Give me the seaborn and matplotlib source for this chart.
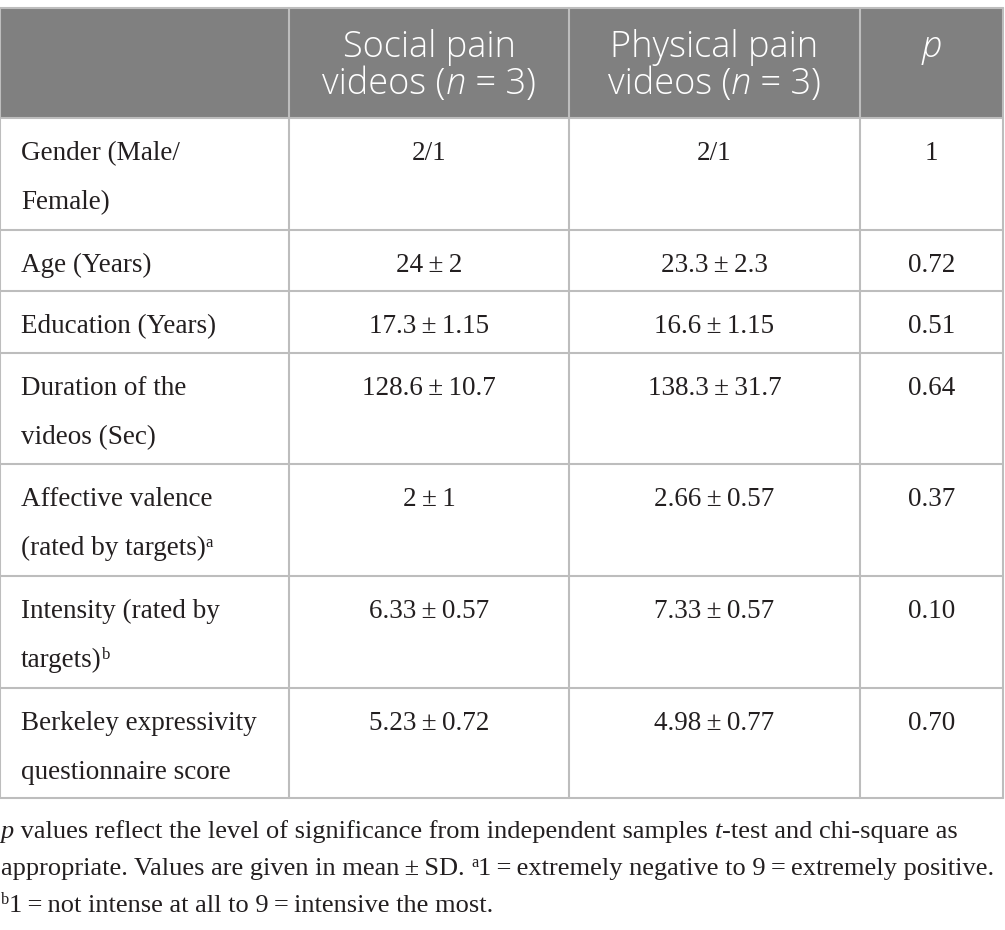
import matplotlib
matplotlib.use("Agg")
import matplotlib.pyplot as plt
import seaborn as sns

# table content
row_labels = [
    ["Gender (Male/", "Female)"],
    ["Age (Years)"],
    ["Education (Years)"],
    ["Duration of the", "videos (Sec)"],
    ["Affective valence", "(rated by targets)"],
    ["Intensity (rated by", "targets)"],
    ["Berkeley expressivity", "questionnaire score"],
]
label_sup = [None, None, None, None, "a", "b", None]
social = ["2/1", "24\u2009±\u20092", "17.3\u2009±\u20091.15", "128.6\u2009±\u200910.7",
          "2\u2009±\u20091", "6.33\u2009±\u20090.57", "5.23\u2009±\u20090.72"]
physical = ["2/1", "23.3\u2009±\u20092.3", "16.6\u2009±\u20091.15", "138.3\u2009±\u200931.7",
            "2.66\u2009±\u20090.57", "7.33\u2009±\u20090.57", "4.98\u2009±\u20090.77"]
p_values = ["1", "0.72", "0.51", "0.64", "0.37", "0.10", "0.70"]
header_lines = [
    [[("Social pain", {})], [("videos (", {}), ("n", {"style": "italic"}), (" = 3)", {})]],
    [[("Physical pain", {})], [("videos (", {}), ("n", {"style": "italic"}), (" = 3)", {})]],
    [[("p", {"style": "italic"})]],
]
footnotes = [
    [("p", {"style": "italic"}), (" values reflect the level of significance from independent samples ", {}),
     ("t", {"style": "italic"}), ("-test and chi-square as", {})],
    [("appropriate. Values are given in mean\u2009±\u2009SD. ", {}), ("a", {"sup": True}),
     ("1\u2009=\u2009extremely negative to 9\u2009=\u2009extremely positive.", {})],
    [("b", {"sup": True}), ("1\u2009=\u2009not intense at all to 9\u2009=\u2009intensive the most.", {})],
]

sns.set_theme(style="white")
SERIF = ["Liberation Serif", "DejaVu Serif"]
SANS = ["Open Sans", "Lato", "DejaVu Sans"]
INK = "#231f20"
GRID = "#bdbdbd"
HEAD_BG = "#808080"

W, H = 1005, 930
col_x = [0, 289, 569, 860, 1003]
row_y = [8, 118, 230, 291, 353, 464, 576, 688, 798]

fig = plt.figure(figsize=(W / 100, H / 100), dpi=100)
ax = fig.add_axes([0, 0, 1, 1])
ax.set_xlim(0, W)
ax.set_ylim(H, 0)
ax.axis("off")
renderer = fig.canvas.get_renderer()


def text_width(s, **kw):
    a = ax.text(0, 0, "|" + s + "|", **kw)
    b = ax.text(0, 0, "||", **kw)
    w = a.get_window_extent(renderer).width - b.get_window_extent(renderer).width
    a.remove()
    b.remove()
    return w


def draw_runs(x, y, parts, size, family, color, ha="left", weight="normal"):
    pieces = []
    cur = 0
    for s, opt in parts:
        fs = size * 0.62 if opt.get("sup") else size
        kw = dict(fontsize=fs, family=family, color=color, weight=weight,
                  style=opt.get("style", "normal"))
        pieces.append((cur, s, kw, -size * 0.42 if opt.get("sup") else 0))
        cur += text_width(s, **kw)
    x0 = x - cur / 2 if ha == "center" else x
    for off, s, kw, dy in pieces:
        ax.text(x0 + off, y + dy, s, va="baseline", ha="left", **kw)
    return cur


# header background
ax.fill_between([col_x[0], col_x[-1]], row_y[0], row_y[1], color=HEAD_BG, lw=0, zorder=0)

# grid
for y in row_y:
    ax.plot([col_x[0], col_x[-1]], [y, y], color=GRID, lw=1.5, zorder=1)
for x in col_x:
    ax.plot([x, x], [row_y[0], row_y[-1]], color=GRID, lw=1.5, zorder=1)

# header text
HEAD_SIZE = 26
for c, lines in enumerate(header_lines):
    cx = (col_x[c + 1] + col_x[c + 2]) / 2
    for k, line in enumerate(lines):
        draw_runs(cx, 57 + k * 37, line, HEAD_SIZE, SANS, "white", ha="center", weight="light")

# body
BODY = 19.5
for i in range(len(row_labels)):
    base = row_y[i + 1] + 42
    for k, line in enumerate(row_labels[i]):
        parts = [(line, {})]
        if k == len(row_labels[i]) - 1 and label_sup[i]:
            parts.append((label_sup[i], {"sup": True}))
        draw_runs(21, base + k * 49, parts, BODY, SERIF, INK)
    for c, vals in enumerate([social, physical, p_values]):
        cx = (col_x[c + 1] + col_x[c + 2]) / 2
        draw_runs(cx, base, [(vals[i], {})], BODY, SERIF, INK, ha="center")

# footnote
FOOT = 19
for k, line in enumerate(footnotes):
    draw_runs(1, 838 + k * 37, line, FOOT, SERIF, INK)

fig.savefig("out.png", dpi=100)
